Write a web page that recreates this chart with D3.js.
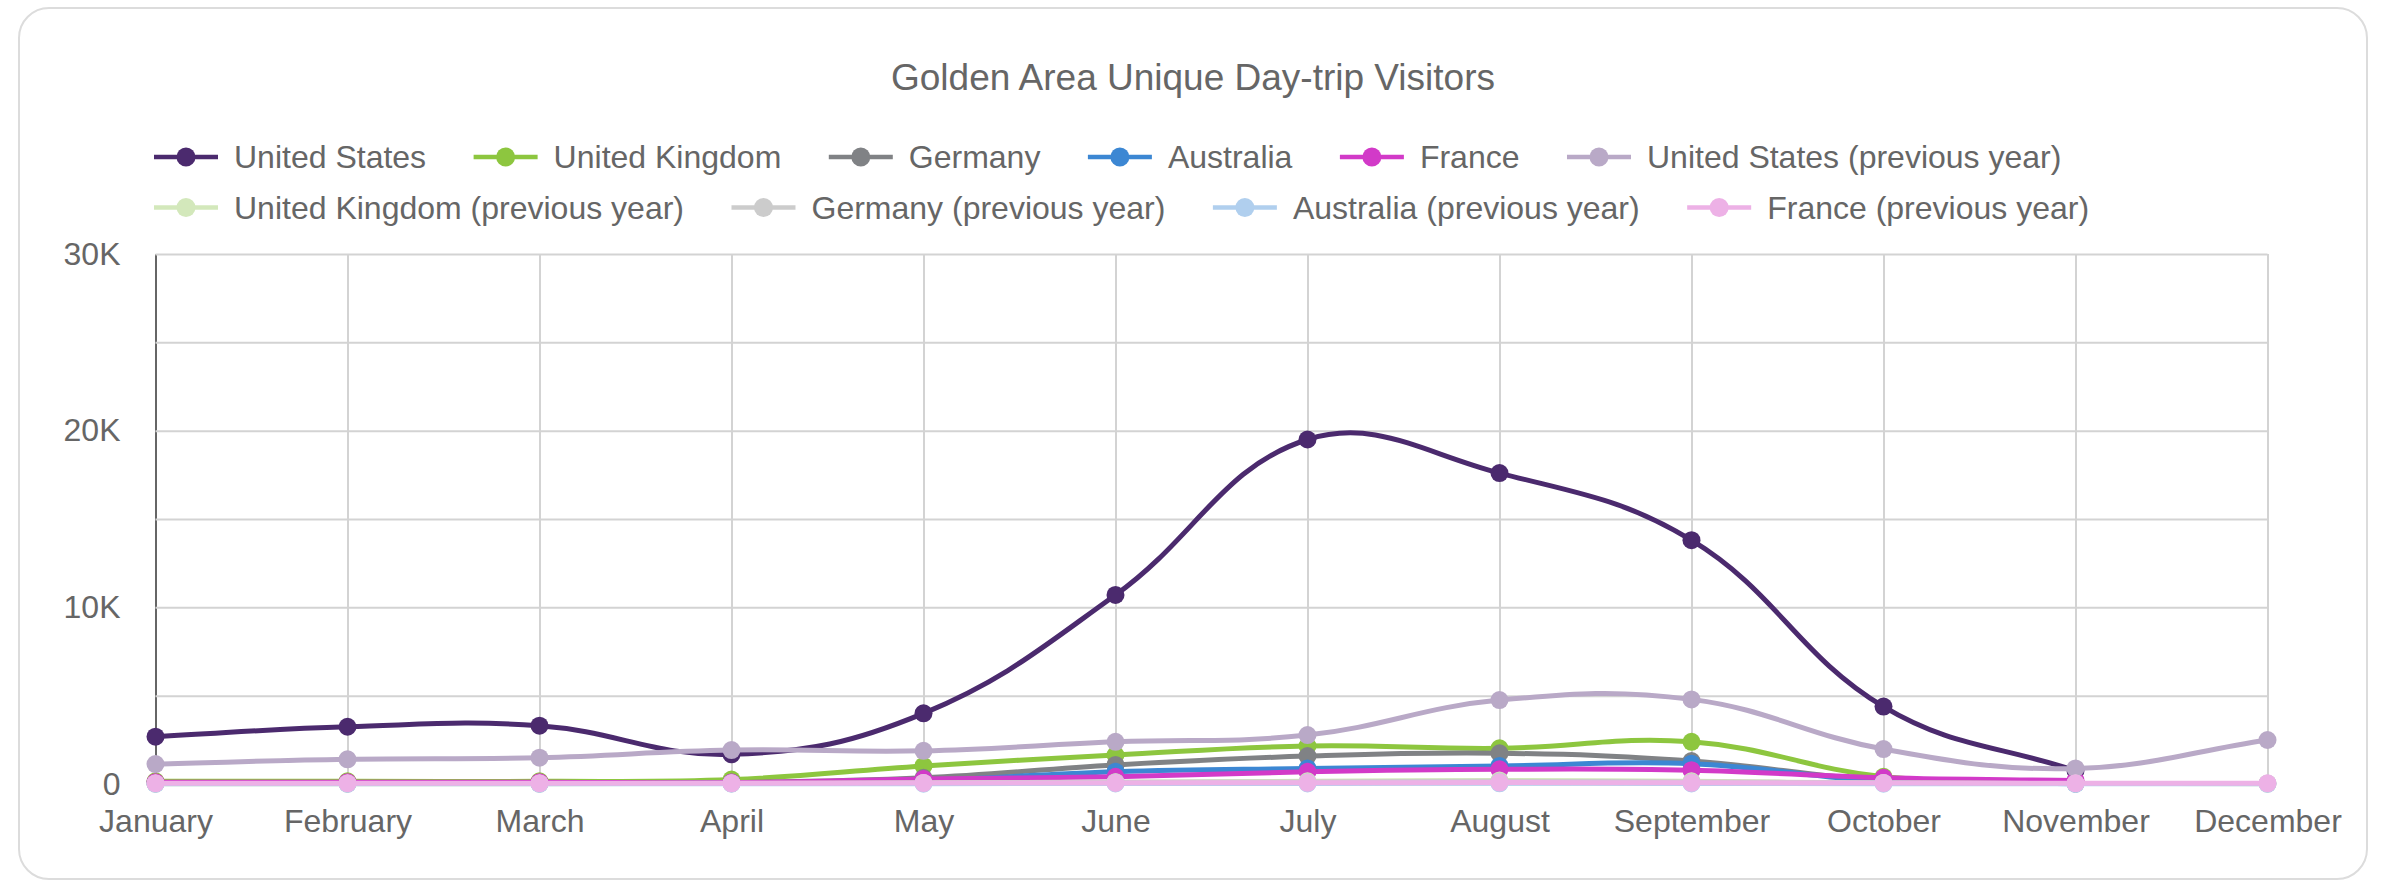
<!DOCTYPE html>
<html>
<head>
<meta charset="utf-8">
<script src="https://cdn.jsdelivr.net/npm/d3@7"></script>
<style>
  html, body { margin: 0; padding: 0; background: #fff; }
  svg text { font-family: 'Liberation Sans', Arial, sans-serif; fill: #666; }
</style>
</head>
<body>
<div id="chart"></div>
<script>
  // data (visitors per month)
  const months = ['January', 'February', 'March', 'April', 'May', 'June', 'July', 'August', 'September', 'October', 'November', 'December'];
  const seriesNames = ['United States', 'United Kingdom', 'Germany', 'Australia', 'France',
    'United States (previous year)', 'United Kingdom (previous year)', 'Germany (previous year)', 'Australia (previous year)', 'France (previous year)'];
  const seriesColors = ['#4b2a6e', '#8dc63f', '#808285', '#3c87d3', '#d23ac8',
    '#b9a9c7', '#d3e8bb', '#cccccc', '#b0cfee', '#edb1e6'];

  const unitedStates = [2680, 3240, 3300, 1680, 4000, 10700, 19500, 17600, 13800, 4380, 750, null];
  const unitedKingdom = [150, 150, 150, 250, 1020, 1640, 2150, 2020, 2390, 410, 50, null];
  const germany = [50, 50, 50, 80, 350, 1080, 1580, 1740, 1300, 200, 30, null];
  const australia = [30, 30, 30, 50, 200, 700, 880, 1020, 1150, 150, 20, null];
  const france = [100, 100, 100, 80, 280, 410, 690, 830, 780, 350, 200, null];
  const unitedStatesPrev = [1130, 1400, 1490, 1920, 1880, 2390, 2770, 4750, 4790, 1980, 880, 2490];
  const unitedKingdomPrev = [20, 20, 20, 30, 60, 100, 150, 200, 150, 60, 30, 20];
  const germanyPrev = [30, 30, 30, 40, 60, 100, 120, 150, 120, 60, 30, 30];
  const australiaPrev = [10, 10, 10, 20, 20, 30, 30, 40, 30, 20, 10, 10];
  const francePrev = [40, 40, 40, 40, 50, 60, 70, 80, 70, 50, 40, 40];

  const seriesValues = [unitedStates, unitedKingdom, germany, australia, france,
    unitedStatesPrev, unitedKingdomPrev, germanyPrev, australiaPrev, francePrev];

  const yTicks = [0, 5000, 10000, 15000, 20000, 25000, 30000];
  const yLabels = ['0', '', '10K', '', '20K', '', '30K'];

  const width = 2386;
  const height = 882;
  const plot = { left: 155.5, right: 2267.5, top: 254, bottom: 784 };
  const tension = 0.4;

  const svg = d3.select('#chart')
    .append('svg')
    .attr('width', width)
    .attr('height', height);

  // card frame
  svg.append('rect')
    .attr('x', 19)
    .attr('y', 8)
    .attr('width', 2348)
    .attr('height', 871)
    .attr('rx', 30)
    .attr('fill', '#fff')
    .attr('stroke', '#dcdcdc')
    .attr('stroke-width', 2);

  svg.append('text')
    .attr('x', width / 2)
    .attr('y', 90)
    .attr('text-anchor', 'middle')
    .style('font-size', '37px')
    .text('Golden Area Unique Day-trip Visitors');

  const x = d3.scalePoint().domain(months).range([plot.left, plot.right]);
  const y = d3.scaleLinear().domain([0, 30000]).range([plot.bottom, plot.top]);

  // grid + axes
  const xAxis = d3.axisBottom(x)
    .tickSize(-(plot.bottom - plot.top))
    .tickSizeOuter(0)
    .tickPadding(25);

  const yAxis = d3.axisLeft(y)
    .tickValues(yTicks)
    .tickSize(-(plot.right - plot.left))
    .tickSizeOuter(0)
    .tickPadding(35)
    .tickFormat((d, i) => yLabels[i]);

  const gx = svg.append('g')
    .attr('transform', `translate(0, ${plot.bottom})`)
    .call(xAxis);
  gx.select('.domain').remove();

  const gy = svg.append('g')
    .attr('transform', `translate(${plot.left}, 0)`)
    .call(yAxis);
  gy.select('.domain').attr('stroke', '#666').attr('stroke-width', 2);
  gy.raise();

  svg.selectAll('.tick line').attr('stroke', '#d3d3d3').attr('stroke-width', 2);
  svg.selectAll('.tick text').style('font-size', '32px').attr('fill', '#666');

  // chart.js style spline (tension 0.4, control points kept inside the plot)
  const clampY = v => Math.min(Math.max(v, plot.top), plot.bottom);
  const splineCurve = (context) => {
    let pts;
    return {
      areaStart() {},
      areaEnd() {},
      lineStart() { pts = []; },
      point(px, py) { pts.push([+px, +py]); },
      lineEnd() {
        const n = pts.length;
        if (!n) return;
        const cps = pts.map((p, i) => {
          const prev = pts[Math.max(i - 1, 0)];
          const next = pts[Math.min(i + 1, n - 1)];
          const d01 = Math.hypot(p[0] - prev[0], p[1] - prev[1]);
          const d12 = Math.hypot(next[0] - p[0], next[1] - p[1]);
          let s01 = d01 / (d01 + d12);
          let s12 = d12 / (d01 + d12);
          if (isNaN(s01)) s01 = 0;
          if (isNaN(s12)) s12 = 0;
          const fa = tension * s01;
          const fb = tension * s12;
          return {
            prev: [p[0] - fa * (next[0] - prev[0]), clampY(p[1] - fa * (next[1] - prev[1]))],
            next: [p[0] + fb * (next[0] - prev[0]), clampY(p[1] + fb * (next[1] - prev[1]))]
          };
        });
        context.moveTo(pts[0][0], pts[0][1]);
        for (let i = 1; i < n; i++) {
          context.bezierCurveTo(cps[i - 1].next[0], cps[i - 1].next[1],
            cps[i].prev[0], cps[i].prev[1], pts[i][0], pts[i][1]);
        }
      }
    };
  };

  const line = d3.line()
    .defined(d => d.value !== null)
    .x(d => x(d.month))
    .y(d => y(d.value))
    .curve(splineCurve);

  seriesValues.forEach((values, s) => {
    const data = months.map((m, i) => ({ month: m, value: values[i] }));
    const g = svg.append('g').attr('class', 'series');
    g.append('path')
      .attr('d', line(data))
      .attr('fill', 'none')
      .attr('stroke', seriesColors[s])
      .attr('stroke-width', 5);
    g.selectAll('circle')
      .data(data.filter(d => d.value !== null))
      .enter()
      .append('circle')
      .attr('cx', d => x(d.month))
      .attr('cy', d => y(d.value))
      .attr('r', 9)
      .attr('fill', seriesColors[s]);
  });

  // legend, left aligned rows that wrap at the plot edge
  const legend = svg.append('g');
  const rowY = [157, 207.5];
  let cx = 154;
  let row = 0;
  seriesNames.forEach((name, s) => {
    const item = legend.append('g');
    const label = item.append('text')
      .attr('x', 80)
      .attr('dy', '0.35em')
      .style('font-size', '32px')
      .text(name);
    const itemWidth = 80 + label.node().getComputedTextLength();
    if (cx > 154 && cx + itemWidth > plot.right) {
      row += 1;
      cx = 154;
    }
    item.append('line')
      .attr('x1', 0)
      .attr('x2', 64)
      .attr('stroke', seriesColors[s])
      .attr('stroke-width', 4.5);
    item.append('circle')
      .attr('cx', 32)
      .attr('r', 9.5)
      .attr('fill', seriesColors[s]);
    item.attr('transform', `translate(${cx}, ${rowY[row]})`);
    cx += itemWidth + 47.5;
  });
</script>
</body>
</html>
